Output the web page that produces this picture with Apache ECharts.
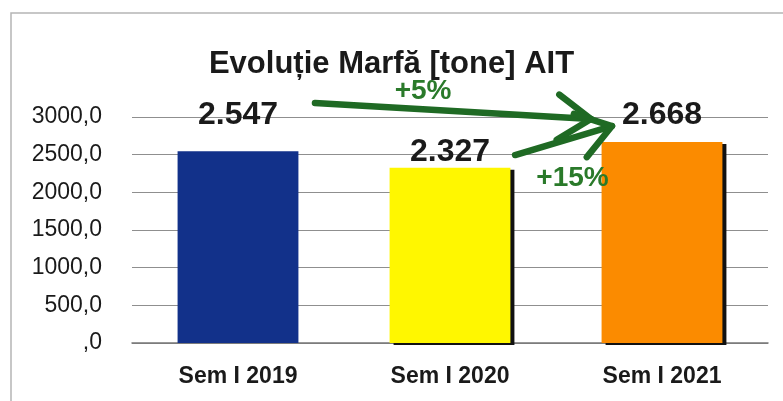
<!DOCTYPE html>
<html>
<head>
<meta charset="utf-8">
<script src="https://cdn.jsdelivr.net/npm/echarts@6/dist/echarts.min.js"></script>
<style>
  html, body { margin: 0; padding: 0; background: #fff; }
  #main { width: 783px; height: 401px; }
</style>
</head>
<body>
<div id="main"></div>
<script>
var categories = ['Sem I 2019', 'Sem I 2020', 'Sem I 2021']
var values = [2547, 2327, 2668]
var valueLabels = ['2.547', '2.327', '2.668']
var tickValues = [0, 500, 1000, 1500, 2000, 2500, 3000]
var tickLabels = [',0', '500,0', '1000,0', '1500,0', '2000,0', '2500,0', '3000,0']
// arrows: [x0, y0, x1, y1] in (category index, tone) units
var arrows = [
  [0.363, 3186, 1.665, 2973],
  [1.307, 2495, 1.764, 2880]
]
var changeLabels = ['+5%', '+15%']
var changePos = [[0.873, 3340], [1.578, 2190]]

var barColors = ['#12318a', '#fff700', '#fb8b00']
var labelDist = [20, 0, 11]
var green = '#1f6a24'
var font = 'Liberation Sans'

const myCharts = echarts.init(document.getElementById('main'))

var barData = values.map(function (v, i) {
  return {
    value: v,
    itemStyle: {
      color: barColors[i],
      shadowColor: i === 0 ? 'rgba(0,0,0,0)' : '#111',
      shadowOffsetX: 4,
      shadowOffsetY: 2
    },
    label: { distance: labelDist[i] }
  }
})

var annoData = arrows.map(function (a) { return a.concat([0]) })
changePos.forEach(function (p, i) { annoData.push([p[0], p[1], 0, 0, i + 1]) })

const option = {
  backgroundColor: '#fff',
  animation: false,
  title: {
    text: 'Evoluție Marfă [tone] AIT',
    left: 'center',
    top: 44,
    textStyle: { fontFamily: font, fontSize: 31, fontWeight: 'bold', color: '#1a1a1a' }
  },
  graphic: [{
    type: 'rect',
    shape: { x: 11, y: 13, width: 800, height: 420 },
    style: { fill: 'none', stroke: '#b5b5b5', lineWidth: 1.5 },
    z: -1
  }],
  grid: { left: 132, right: 15, top: 117, bottom: 58 },
  xAxis: [{
    type: 'category',
    data: categories,
    axisTick: { show: false },
    axisLine: { lineStyle: { color: '#777', width: 1.5 } },
    axisLabel: { margin: 22, fontFamily: font, fontSize: 23, fontWeight: 'bold', color: '#1a1a1a' }
  }, {
    type: 'value',
    min: -0.5,
    max: 2.5,
    show: false
  }],
  yAxis: {
    type: 'value',
    min: 0,
    max: 3000,
    interval: 500,
    axisLine: { show: false },
    axisTick: { show: false },
    splitLine: { lineStyle: { color: '#8f8f8f', width: 1.2 } },
    axisLabel: {
      margin: 30,
      fontFamily: font,
      fontSize: 23,
      color: '#1a1a1a',
      formatter: function (v) {
        var i = tickValues.indexOf(v)
        return i >= 0 ? tickLabels[i] : ''
      }
    }
  },
  series: [{
    type: 'bar',
    data: barData,
    barWidth: '57%',
    label: {
      show: true,
      position: 'top',
      fontFamily: font,
      fontSize: 32,
      fontWeight: 'bold',
      color: '#1a1a1a',
      formatter: function (p) { return valueLabels[p.dataIndex] }
    }
  }, {
    type: 'custom',
    xAxisIndex: 1,
    yAxisIndex: 0,
    clip: false,
    z: 10,
    data: annoData,
    renderItem: function (params, api) {
      var kind = api.value(4)
      if (kind > 0) {
        var c = api.coord([api.value(0), api.value(1)])
        return {
          type: 'text',
          style: {
            text: changeLabels[kind - 1],
            x: c[0], y: c[1],
            align: 'center', verticalAlign: 'middle',
            font: 'bold 28px ' + font,
            fill: '#2a7a2a'
          }
        }
      }
      var p0 = api.coord([api.value(0), api.value(1)])
      var p1 = api.coord([api.value(2), api.value(3)])
      var ang = Math.atan2(p1[1] - p0[1], p1[0] - p0[0])
      var len = 40, spread = 0.6
      var w1 = [p1[0] - len * Math.cos(ang - spread), p1[1] - len * Math.sin(ang - spread)]
      var w2 = [p1[0] - len * Math.cos(ang + spread), p1[1] - len * Math.sin(ang + spread)]
      var st = { stroke: green, lineWidth: 6.5, lineCap: 'round', lineJoin: 'round', fill: 'none' }
      return {
        type: 'group',
        children: [
          { type: 'polyline', shape: { points: [p0, p1] }, style: st },
          { type: 'polyline', shape: { points: [w1, p1, w2] }, style: st }
        ]
      }
    }
  }]
}
myCharts.setOption(option)
</script>
</body>
</html>
